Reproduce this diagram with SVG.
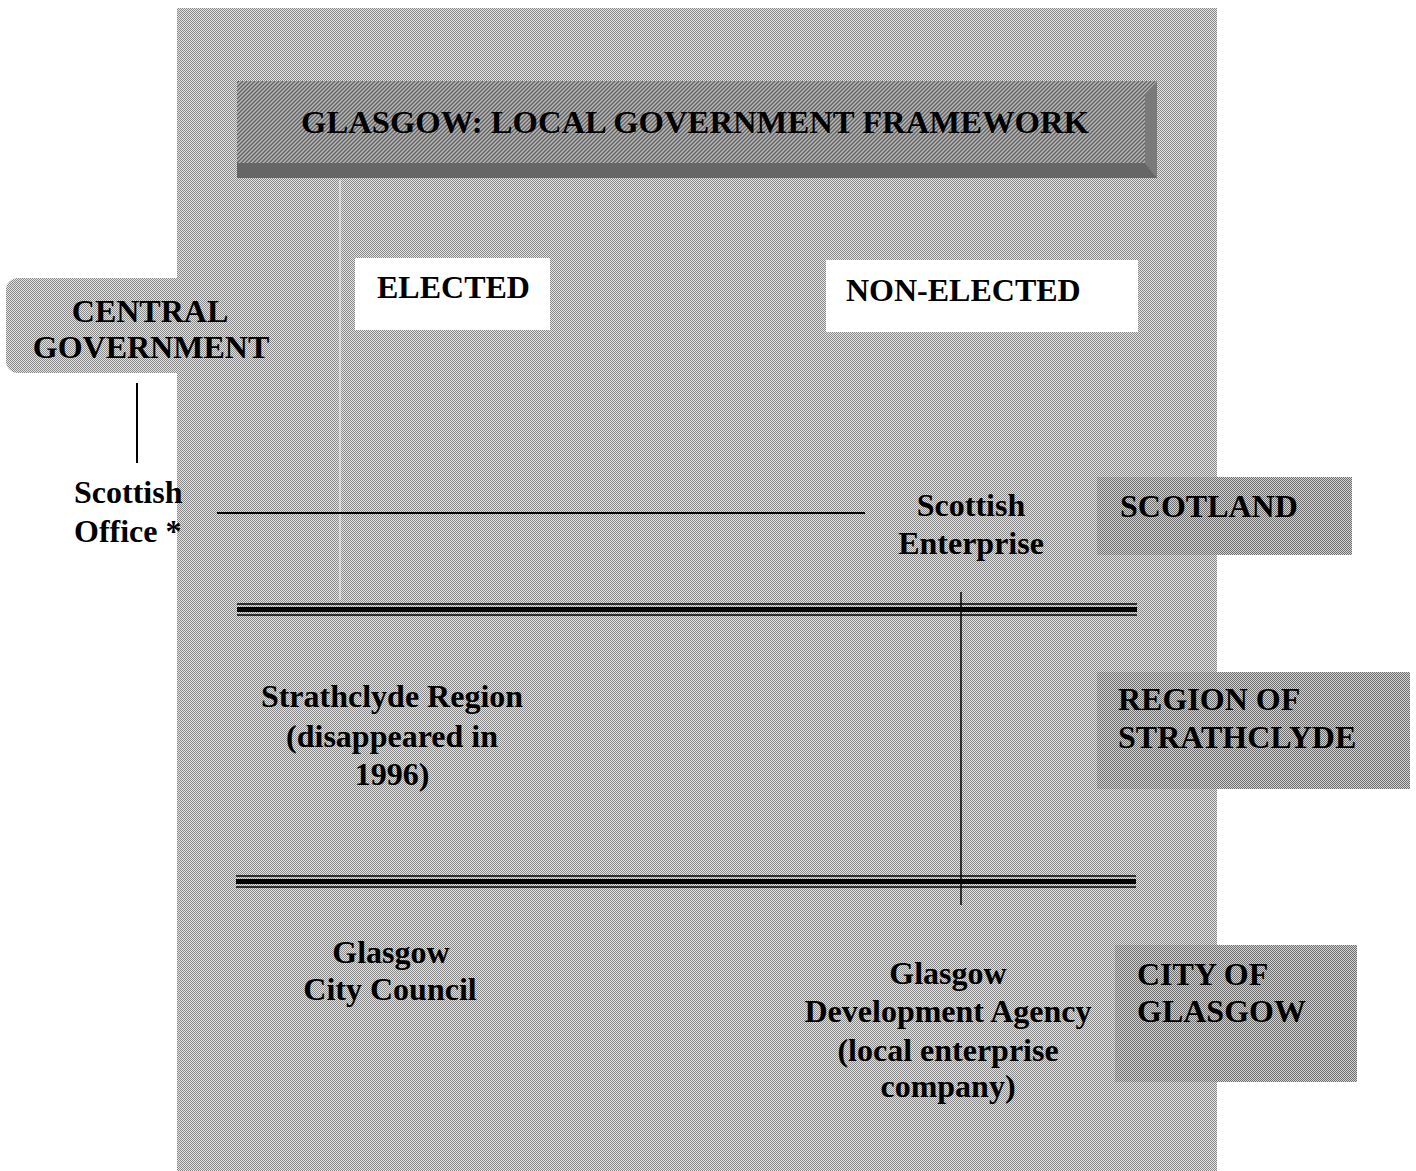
<svg xmlns="http://www.w3.org/2000/svg" width="1416" height="1171" viewBox="0 0 1416 1171">
<defs>
<pattern id="ht" width="2" height="2" patternUnits="userSpaceOnUse">
<rect width="2" height="2" fill="#e2e2e2"/><rect width="1" height="1" fill="#8a8a8a"/><rect x="1" y="1" width="1" height="1" fill="#8a8a8a"/>
</pattern>
<pattern id="htd" width="2" height="2" patternUnits="userSpaceOnUse">
<rect width="2" height="2" fill="#d2d2d2"/><rect width="1" height="1" fill="#6e6e6e"/><rect x="1" y="1" width="1" height="1" fill="#6e6e6e"/>
</pattern>
<pattern id="hatch" width="4" height="4" patternUnits="userSpaceOnUse">
<rect width="4" height="4" fill="#b8b8b8"/><path d="M0 4L4 0M-1 1L1 -1M3 5L5 3" stroke="#626262" stroke-width="1.4"/>
</pattern>
<style>
.t{font-family:"Liberation Serif","Times New Roman",serif;font-weight:bold;font-size:32px;fill:#000}
.c{text-anchor:middle}
.box{fill:url(#htd)}
</style>
</defs>
<rect width="1416" height="1171" fill="#fff"/>
<!-- main background -->
<rect x="177" y="8" width="1040" height="1163" fill="url(#ht)"/>
<line x1="340" y1="180" x2="340" y2="600" stroke="#fff" stroke-width="1.5" opacity="0.6"/>

<g id="title">
<rect x="237" y="81" width="920" height="97" fill="url(#hatch)"/>
<polygon points="237,163 1145,163 1157,178 237,178" fill="#666"/>
<polygon points="1145,94 1157,81 1157,178 1145,163" fill="#7a7a7a"/>
<text class="t c" x="695" y="133" font-size="36" textLength="788" lengthAdjust="spacingAndGlyphs">GLASGOW: LOCAL GOVERNMENT FRAMEWORK</text>
</g>

<g id="central-government">
<rect x="6" y="278" width="266" height="95" rx="12" fill="url(#ht)"/>
<text class="t c" x="150" y="322">CENTRAL</text>
<text class="t c" x="151" y="358">GOVERNMENT</text>
</g>

<g id="elected">
<rect x="355" y="258" width="195" height="72" fill="#fff"/>
<text class="t" x="377" y="298">ELECTED</text>
</g>

<g id="non-elected">
<rect x="826" y="260" width="312" height="72" fill="#fff"/>
<text class="t" x="846" y="301">NON-ELECTED</text>
</g>

<g id="scottish-office">
<text class="t" x="74" y="503">Scottish</text>
<text class="t" x="74" y="542">Office *</text>
</g>

<g id="scottish-enterprise">
<text class="t c" x="971" y="516">Scottish</text>
<text class="t c" x="971" y="554">Enterprise</text>
</g>

<g id="scotland">
<rect x="1097" y="477" width="255" height="78" class="box"/>
<text class="t" x="1120" y="517">SCOTLAND</text>
</g>

<g id="strathclyde-region">
<text class="t c" x="392" y="707">Strathclyde Region</text>
<text class="t c" x="392" y="747">(disappeared in</text>
<text class="t c" x="392" y="785">1996)</text>
</g>

<g id="region-of-strathclyde">
<rect x="1097" y="672" width="313" height="117" class="box"/>
<text class="t" x="1118" y="710">REGION OF</text>
<text class="t" x="1118" y="748">STRATHCLYDE</text>
</g>

<g id="glasgow-city-council">
<text class="t c" x="391" y="963">Glasgow</text>
<text class="t c" x="390" y="1000">City Council</text>
</g>

<g id="glasgow-development-agency">
<text class="t c" x="948" y="984">Glasgow</text>
<text class="t c" x="948" y="1022">Development Agency</text>
<text class="t c" x="948" y="1061">(local enterprise</text>
<text class="t c" x="948" y="1097">company)</text>
</g>

<g id="city-of-glasgow">
<rect x="1115" y="945" width="242" height="137" class="box"/>
<text class="t" x="1137" y="985">CITY OF</text>
<text class="t" x="1137" y="1022">GLASGOW</text>
</g>

<g id="connectors" stroke="#000" fill="none">
<line x1="137" y1="383" x2="137" y2="463" stroke-width="2"/>
<line x1="217" y1="513" x2="865" y2="513" stroke-width="1.8"/>
<line x1="237" y1="604" x2="1137" y2="604" stroke-width="1.5"/>
<line x1="237" y1="609.5" x2="1137" y2="609.5" stroke-width="5"/>
<line x1="237" y1="615" x2="1137" y2="615" stroke-width="1.5"/>
<line x1="236" y1="876" x2="1136" y2="876" stroke-width="1.5"/>
<line x1="236" y1="881.5" x2="1136" y2="881.5" stroke-width="5"/>
<line x1="236" y1="887" x2="1136" y2="887" stroke-width="1.5"/>
<line x1="961" y1="592" x2="961" y2="905" stroke-width="1.5"/>
</g>
</svg>
